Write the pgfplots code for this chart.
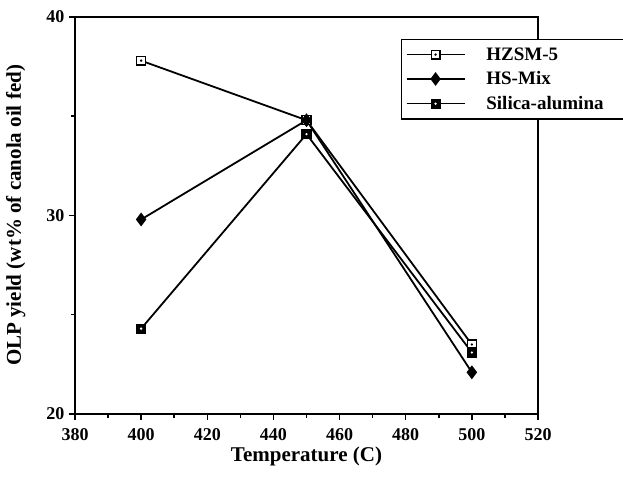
\documentclass[border=0pt]{standalone}
\usepackage{pgfplots}
\pgfplotsset{compat=1.18}
\usepackage{fontspec}
\setmainfont{Liberation Serif}
\pgfdeclareplotmark{sqdot}{%
  \pgfpathrectangle{\pgfqpoint{-\pgfplotmarksize}{-\pgfplotmarksize}}{\pgfqpoint{2\pgfplotmarksize}{2\pgfplotmarksize}}%
  \pgfsetfillcolor{white}\pgfusepathqfillstroke
  \pgfpathcircle{\pgfpointorigin}{0.3\pgfplotmarksize}\pgfsetfillcolor{black}\pgfusepathqfill}
\pgfdeclareplotmark{sqwdot}{%
  \pgfpathrectangle{\pgfqpoint{-\pgfplotmarksize}{-\pgfplotmarksize}}{\pgfqpoint{2\pgfplotmarksize}{2\pgfplotmarksize}}%
  \pgfsetfillcolor{black}\pgfusepathqfillstroke
  \pgfpathcircle{\pgfpointorigin}{0.3\pgfplotmarksize}\pgfsetfillcolor{white}\pgfusepathqfill}
\newcommand{\tlfont}{\fontsize{18bp}{20bp}\selectfont\bfseries}
\begin{document}
\begin{tikzpicture}[x=1bp,y=1bp]
\begin{axis}[
  at={(75bp,64bp)}, anchor=south west,
  scale only axis, width=463bp, height=397bp,
  xmin=380, xmax=520, ymin=20, ymax=40,
  xtick={380,400,...,520}, ytick={20,30,40},
  minor x tick num=1, minor y tick num=1,
  xtick pos=bottom, ytick pos=left,
  tick align=outside,
  major tick length=6bp, minor tick length=4bp,
  axis line style={line width=1.7bp},
  every tick/.style={line width=1.5bp, black},
  xticklabel={\tlfont\pgfmathprintnumber[assume math mode=true]{\tick}},
  yticklabel={\tlfont\pgfmathprintnumber[assume math mode=true]{\tick}},
  xticklabel style={yshift=-5bp},
  yticklabel style={xshift=-1bp},
  label style={font=\fontsize{21bp}{23bp}\selectfont\bfseries},
  xlabel={Temperature (C)},
  ylabel={OLP yield (wt\% of canola oil fed)},
  xlabel style={at={(0.5,-0.106)}, anchor=center},
  ylabel style={at={(-0.128,0.5)}, anchor=center, rotate=0},
  legend style={at={(0.704,0.945)}, anchor=north west, draw=black, line width=1.5bp,
    font=\fontsize{19bp}{21bp}\selectfont\bfseries, fill=white,
    row sep=6bp, inner xsep=4bp, inner ysep=6bp,
    nodes={text width=136bp, align=left},
    /tikz/every odd column/.append style={column sep=19bp}},
  legend cell align=left,
  legend image code/.code={\draw[line width=1.7bp,#1] (0bp,0bp) -- (29bp,0bp) plot coordinates {(29bp,0bp)} -- (58bp,0bp);},
]
\addplot[black, line width=1.8bp, mark=sqdot, mark size=4.4bp, mark options={line width=1.3bp, solid}] coordinates {(400,37.8) (450,34.8) (500,23.5)};
\addlegendentry{HZSM-5}
\addplot[black, line width=1.8bp, mark=diamond*, mark size=5.5bp, mark options={fill=black, solid}] coordinates {(400,29.8) (450,34.8) (500,22.1)};
\addlegendentry{HS-Mix}
\addplot[black, line width=1.8bp, mark=sqwdot, mark size=4.4bp, mark options={line width=1.3bp, solid}] coordinates {(400,24.3) (450,34.1) (500,23.1)};
\addlegendentry{Silica-alumina}
\end{axis}
\pgfresetboundingbox
\path[use as bounding box] (0,0) rectangle (623bp,478bp);
\end{tikzpicture}
\end{document}
